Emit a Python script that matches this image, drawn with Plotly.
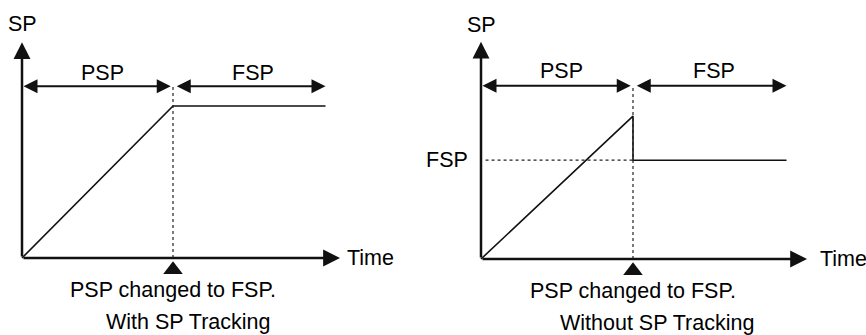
import plotly.graph_objects as go

# ---- data (logical units: time, SP) ----
change_time = 1.0
time_track = [0.0, 1.0, 2.01]
sp_track = [0.0, 1.0, 1.0]
time_notrack = [0.0, 1.0, 1.0, 2.01]
sp_notrack = [0.0, 0.94, 0.65, 0.65]
fsp_level = 0.65
labels_top = ["PSP", "FSP"]
caption_change = "PSP changed to FSP."
titles = ["With SP Tracking", "Without SP Tracking"]

W, H = 866, 335
FONT = dict(family="Liberation Sans, Arial, sans-serif", size=21.5, color="black")

# pixel placement of each panel: origin (px) and pixel per unit
panels = [
    dict(ox=22, oy=258, sx=151, sy=152, xa="x", ya="y"),
    dict(ox=481, oy=259, sx=152, sy=152, xa="x2", ya="y2"),
]

fig = go.Figure()

def rng_x(p):
    return [-p["ox"] / p["sx"], (W - p["ox"]) / p["sx"]]

def rng_y(p):
    return [(p["oy"] - H) / p["sy"], p["oy"] / p["sy"]]

series = [(time_track, sp_track), (time_notrack, sp_notrack)]
ann = []
ARW = dict(showarrow=True, arrowhead=2, arrowsize=1.4, arrowwidth=2, arrowcolor="#111", text="")
for i, p in enumerate(panels):
    xa, ya = p["xa"], p["ya"]
    tx, ty = series[i]
    # signal line
    fig.add_trace(go.Scatter(x=tx, y=ty, mode="lines", xaxis=xa, yaxis=ya,
                             line=dict(color="#111", width=1.6), hoverinfo="skip"))
    # dashed vertical at change
    fig.add_trace(go.Scatter(x=[change_time, change_time], y=[0, 1.13], mode="lines",
                             xaxis=xa, yaxis=ya,
                             line=dict(color="#222", width=1.2, dash="3px,3px"), hoverinfo="skip"))
    # triangle marker
    fig.add_trace(go.Scatter(x=[change_time], y=[-0.078], mode="markers", xaxis=xa, yaxis=ya,
                             marker=dict(symbol="triangle-up", size=17, color="#111"),
                             hoverinfo="skip"))
    x_end = [2.106, 2.145][i]
    y_top = [1.42, 1.43][i]
    arr_y = [1.13, 1.14][i]
    # axes arrows
    ann.append(dict(x=x_end, y=0, ax=0, ay=0, xref=xa, yref=ya, axref=xa, ayref=ya,
                    **{**ARW, "arrowwidth": 2.5, "arrowsize": 1.35}))
    ann.append(dict(x=0, y=y_top, ax=0, ay=0, xref=xa, yref=ya, axref=xa, ayref=ya,
                    **{**ARW, "arrowwidth": 2.5, "arrowsize": 1.35}))
    # PSP / FSP double arrows
    ann.append(dict(x=change_time - 0.015, y=arr_y, ax=0, ay=arr_y, xref=xa, yref=ya, axref=xa, ayref=ya,
                    startarrowhead=2, arrowside="end+start", startarrowsize=1.4, **ARW))
    ann.append(dict(x=2.01, y=arr_y, ax=change_time + 0.015, ay=arr_y, xref=xa, yref=ya, axref=xa, ayref=ya,
                    startarrowhead=2, arrowside="end+start", startarrowsize=1.4, **ARW))
    # texts
    lab_y = [1.22, 1.24][i]
    ann.append(dict(x=0.53, y=lab_y, xref=xa, yref=ya, text=labels_top[0], showarrow=False, font=FONT))
    ann.append(dict(x=1.53, y=lab_y, xref=xa, yref=ya, text=labels_top[1], showarrow=False, font=FONT))
    ann.append(dict(x=0, y=1.54, xref=xa, yref=ya, text="SP", showarrow=False, font=FONT))
    ann.append(dict(x=[2.14, 2.22][i], y=0, xref=xa, yref=ya, text="Time", showarrow=False,
                    xanchor="left", font=FONT))
    ann.append(dict(x=change_time, y=-0.21, xref=xa, yref=ya, text=caption_change,
                    showarrow=False, font=FONT))
    ann.append(dict(x=[1.1, 1.16][i], y=-0.42, xref=xa, yref=ya, text=titles[i],
                    showarrow=False, font=FONT))

# FSP level on right panel
fig.add_trace(go.Scatter(x=[0.03, change_time], y=[fsp_level, fsp_level], mode="lines",
                         xaxis="x2", yaxis="y2",
                         line=dict(color="#222", width=1.2, dash="3px,3px"), hoverinfo="skip"))
ann.append(dict(x=-0.07, y=fsp_level, xref="x2", yref="y2", text="FSP", showarrow=False,
                xanchor="right", font=FONT))

ax_common = dict(visible=False, fixedrange=True)
fig.update_layout(
    width=W, height=H, margin=dict(l=0, r=0, t=0, b=0),
    paper_bgcolor="white", plot_bgcolor="rgba(0,0,0,0)", showlegend=False,
    xaxis=dict(domain=[0, 1], range=rng_x(panels[0]), anchor="y", **ax_common),
    yaxis=dict(domain=[0, 1], range=rng_y(panels[0]), anchor="x", **ax_common),
    xaxis2=dict(domain=[0, 1], range=rng_x(panels[1]), anchor="y2", **ax_common),
    yaxis2=dict(domain=[0, 1], range=rng_y(panels[1]), anchor="x2", **ax_common),
    annotations=ann,
)

fig.write_html("out.html", config={"displayModeBar": False},
               post_script="document.body.style.margin='0';document.body.style.overflow='hidden';")
